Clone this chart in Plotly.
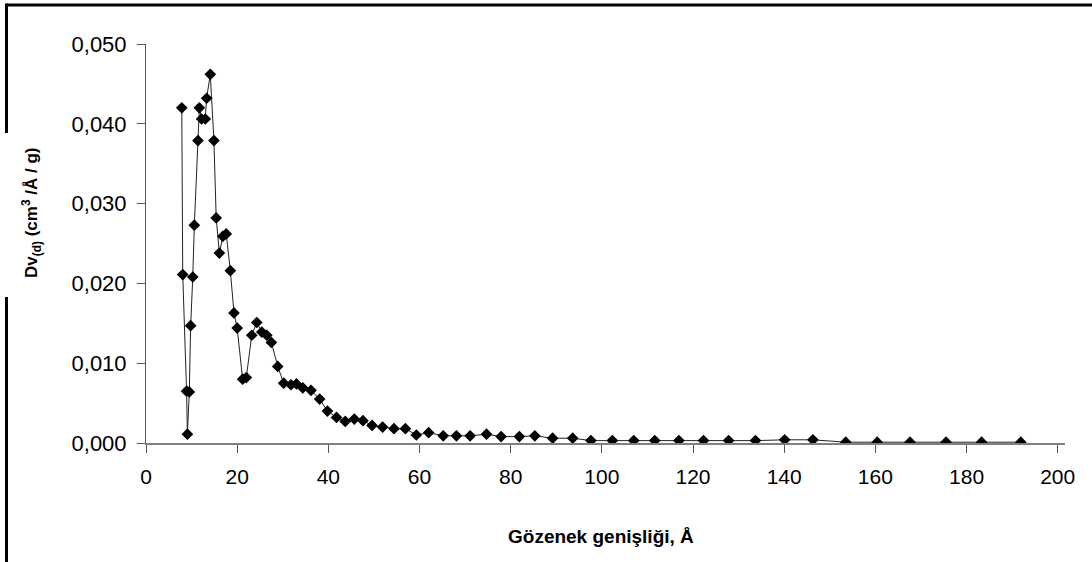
import plotly.graph_objects as go

pore_width = [7.85, 8.06, 8.9, 9.08, 9.5, 9.8, 10.26, 10.6, 11.4, 11.7, 12.2, 13.0, 13.3, 14.1,
              14.9, 15.4, 16.1, 16.85, 17.6, 18.5, 19.3, 20.0, 21.2, 22.0, 23.2, 24.3, 25.4,
              26.5, 27.5, 28.9, 30.2, 31.8, 33.0, 34.4, 36.2, 38.1, 39.8, 41.8, 43.7, 45.7,
              47.6, 49.6, 51.9, 54.4, 56.9, 59.3, 62.0, 65.2, 68.1, 71.1, 74.7, 77.9, 81.9,
              85.3, 89.2, 93.6, 97.6, 102.3, 107.0, 111.6, 116.9, 122.3, 127.8, 133.7, 140.1,
              146.3, 153.5, 160.4, 167.6, 175.5, 183.3, 191.9]
dv = [0.0420, 0.0211, 0.0065, 0.0011, 0.0064, 0.0147, 0.0208, 0.0273, 0.0379, 0.0420, 0.0406,
      0.0406, 0.0432, 0.0462, 0.0379, 0.0282, 0.0238, 0.0259, 0.0262, 0.0216, 0.0163, 0.0144,
      0.0080, 0.0082, 0.0135, 0.0151, 0.0139, 0.0135, 0.0126, 0.0096, 0.0075, 0.0073, 0.0074,
      0.0069, 0.0066, 0.0055, 0.0040, 0.0032, 0.0027, 0.0030, 0.0028, 0.0022, 0.0020, 0.0018,
      0.0018, 0.0010, 0.0013, 0.0009, 0.0009, 0.0009, 0.0011, 0.0008, 0.0008, 0.0009, 0.0006,
      0.0006, 0.0003, 0.0003, 0.0003, 0.0003, 0.0003, 0.0003, 0.0003, 0.0003, 0.0004, 0.0004,
      0.0001, 0.0001, 0.0001, 0.0001, 0.0001, 0.0001]

x_ticks = [0, 20, 40, 60, 80, 100, 120, 140, 160, 180, 200]
y_ticks = [0.0, 0.01, 0.02, 0.03, 0.04, 0.05]

W, H = 1092, 562
L, R, T, B = 146, 1065, 44, 443

fig = go.Figure()
fig.add_trace(go.Scatter(
    x=pore_width, y=dv, mode="lines+markers",
    line=dict(color="#222222", width=1),
    marker=dict(symbol="diamond", size=9, color="black"),
    showlegend=False, hoverinfo="x+y"))

def px_x(p):
    return (p - L) / (R - L)

def px_y(p):
    return (B - p) / (B - T)

shapes = [
    dict(type="line", xref="paper", yref="paper", x0=px_x(6.5), x1=px_x(1100),
         y0=px_y(5), y1=px_y(5), line=dict(color="black", width=3)),
    dict(type="line", xref="paper", yref="paper", x0=px_x(6.5), x1=px_x(6.5),
         y0=px_y(3.5), y1=px_y(133), line=dict(color="black", width=3)),
    dict(type="line", xref="paper", yref="paper", x0=px_x(6.5), x1=px_x(6.5),
         y0=px_y(297), y1=px_y(570), line=dict(color="black", width=3)),
]

fig.update_layout(
    width=W, height=H,
    margin=dict(l=L, r=W - R, t=T, b=H - B),
    paper_bgcolor="white", plot_bgcolor="white",
    separators=",.",
    font=dict(family="Liberation Sans, Arial, sans-serif", color="black"),
    shapes=shapes,
    xaxis=dict(range=[0, 201.6], tickvals=x_ticks, showgrid=False, zeroline=False,
               showline=True, linecolor="#808080", linewidth=2,
               ticks="outside", ticklen=8, tickcolor="#555555", tickwidth=1,
               tickfont=dict(size=21, color="black"), ticklabelstandoff=6),
    yaxis=dict(range=[0, 0.05], tickvals=y_ticks, tickformat=".3f", showgrid=False,
               zeroline=False, showline=True, linecolor="#555555", linewidth=1,
               ticks="outside", ticklen=8, tickcolor="#555555", tickwidth=1,
               tickfont=dict(size=22, color="black"), ticklabelstandoff=6),
    annotations=[
        dict(text="<b>Gözenek genişliği, Å</b>", xref="paper", yref="paper",
             x=px_x(601), y=px_y(536), xanchor="center", yanchor="middle",
             showarrow=False, font=dict(size=19, color="black")),
        dict(text="<b>Dv<sub>(d)</sub> (cm<sup>3</sup> /Å / g)</b>", xref="paper", yref="paper",
             x=px_x(31), y=px_y(213), xanchor="center", yanchor="middle", textangle=-90,
             showarrow=False, font=dict(size=17, color="black")),
    ],
)

fig.write_html("out.html", config={"displayModeBar": False})
